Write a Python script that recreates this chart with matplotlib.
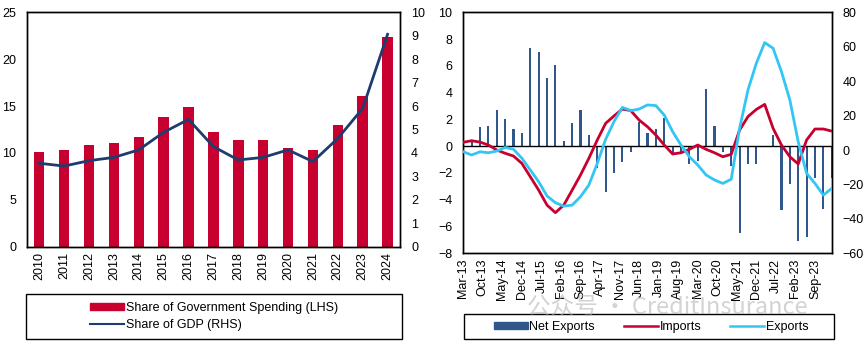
import numpy as np
import matplotlib
matplotlib.use("Agg")
import matplotlib.pyplot as plt
from matplotlib.patches import Rectangle, Patch
from matplotlib.lines import Line2D

plt.rcParams["font.family"] = ["Liberation Sans", "DejaVu Sans"]
plt.rcParams["font.size"] = 9

# Left chart: share of government spending (LHS) / share of GDP (RHS)
years = [str(y) for y in range(2010, 2025)]
gov_spending = [10.1, 10.3, 10.8, 11.1, 11.7, 13.8, 14.9, 12.2, 11.4, 11.4,
                10.5, 10.3, 13.0, 16.1, 22.4]
gdp_share = [3.56, 3.44, 3.67, 3.81, 4.13, 4.88, 5.43, 4.27, 3.70, 3.81,
             4.13, 3.63, 4.62, 5.90, 9.06]

# Right chart: quarterly, Mar-13 .. Mar-24
net_exports = [-1.5, 0.3, 1.4, 1.5, 2.7, 2.0, 1.3, 1.0, 7.3, 7.0,
               5.1, 6.1, 0.4, 1.7, 2.7, 0.8, -1.6, -3.4, -2.0, -1.2,
               -0.4, 1.8, 1.0, 1.3, 2.1, -0.6, -0.4, -1.3, -1.1, 4.3,
               1.5, -0.4, -1.5, -6.5, -1.3, -1.3, 0.05, 0.8, -4.8, -2.8,
               -7.1, -6.8, -2.4, -4.7, -2.4]
imports = [4.5, 5.4, 4.6, 2.9, 0.0, -1.9, -3.5, -7.8, -15.5, -23.3,
           -32.0, -36.4, -32.0, -23.3, -14.5, -4.8, 5.8, 15.5, 19.8, 23.8,
           22.9, 17.4, 13.5, 8.7, 2.9, -2.3, -1.6, 0.4, 2.9, 0.4,
           -1.6, -3.9, -2.5, 11.6, 19.4, 23.6, 26.5, 12.6, 2.9, -3.9,
           -8.1, 5.8, 12.2, 12.2, 11.0]
exports = [-1.0, -2.9, -1.0, -1.6, -0.6, 1.5, 0.4, -4.8, -11.6, -18.4,
           -26.7, -30.6, -32.6, -32.0, -27.1, -20.3, -7.8, 6.2, 16.5, 24.8,
           22.9, 23.8, 26.2, 25.8, 20.3, 10.7, 2.9, -3.9, -8.7, -14.5,
           -17.4, -19.4, -17.0, 12.6, 34.9, 50.4, 62.4, 59.1, 45.5, 29.1,
           4.8, -13.5, -19.4, -26.2, -22.3]
month_labels = ["Mar-13", "Oct-13", "May-14", "Dec-14", "Jul-15", "Feb-16",
                "Sep-16", "Apr-17", "Nov-17", "Jun-18", "Jan-19", "Aug-19",
                "Mar-20", "Oct-20", "May-21", "Dec-21", "Jul-22", "Feb-23",
                "Sep-23"]

RED = "#C8002F"
NAVY = "#1F3C6E"
BAR_BLUE = "#2F578C"
CYAN = "#33C6F4"

W, H = 865, 346
fig = plt.figure(figsize=(W / 100, H / 100), dpi=100)


def fbox(x0, y0, x1, y1):
    # pixel box (top-left origin) -> figure fraction rect
    return [x0 / W, 1 - y1 / H, (x1 - x0) / W, (y1 - y0) / H]


# =========================
# Left chart
# =========================
ax1 = fig.add_axes(fbox(27.3, 12.3, 400, 246.7))
x = np.arange(len(years))
ax1.bar(x, gov_spending, width=0.42, color=RED, zorder=2)
ax1.set_xlim(-0.48, len(years) - 0.5)
ax1.set_ylim(0, 25)
ax1.set_yticks(range(0, 26, 5))
ax1.set_xticks(x)
ax1.set_xticklabels(years, rotation=90)
ax1.tick_params(length=0, pad=4)
ax1.tick_params(axis="y", pad=8)

ax1r = ax1.twinx()
ax1r.plot(x, gdp_share, color=NAVY, lw=2.0, zorder=3)
ax1r.set_ylim(0, 10)
ax1r.set_yticks(range(0, 11))
ax1r.tick_params(length=0, pad=8)
for a in (ax1, ax1r):
    for s in a.spines.values():
        s.set_linewidth(1.0)
        s.set_color("black")

fig.patches.append(Rectangle((26 / W, 1 - 339 / H), 376 / W, 45 / H,
                             transform=fig.transFigure, fill=False,
                             edgecolor="black", lw=1.0))
fig.legend(handles=[Patch(color=RED, label="Share of Government Spending (LHS)"),
                    Line2D([], [], color=NAVY, lw=1.5, label="Share of GDP (RHS)")],
           loc="center", bbox_to_anchor=(214 / W, 1 - 316.5 / H), frameon=False,
           handlelength=2.7, handleheight=0.45, handletextpad=0.15,
           labelspacing=0.45, fontsize=9)

# =========================
# Right chart
# =========================
ax2 = fig.add_axes(fbox(463.3, 12.3, 831.7, 253.3))
m = np.arange(len(net_exports)) * 3
ax2.bar(m, net_exports, width=0.75, color=BAR_BLUE, zorder=2)
ax2.axhline(0, color="black", lw=1.0, zorder=3)
ax2.set_xlim(0, 132)
ax2.set_ylim(-8, 10)
ax2.set_yticks(range(-8, 11, 2))
ax2.set_xticks(np.arange(len(month_labels)) * 7)
ax2.set_xticklabels(month_labels, rotation=90)
ax2.tick_params(length=0, pad=4)
ax2.tick_params(axis="y", pad=8)

ax2r = ax2.twinx()
ax2r.plot(m, imports, color=RED, lw=2.0, zorder=4)
ax2r.plot(m, exports, color=CYAN, lw=2.0, zorder=4)
ax2r.set_ylim(-60, 80)
ax2r.set_yticks(range(-60, 81, 20))
ax2r.tick_params(length=0, pad=8)
for a in (ax2, ax2r):
    for s in a.spines.values():
        s.set_linewidth(1.0)
        s.set_color("black")

fig.patches.append(Rectangle((463.5 / W, 1 - 339 / H), 370 / W, 25 / H,
                             transform=fig.transFigure, fill=False,
                             edgecolor="black", lw=1.0))
fig.legend(handles=[Patch(color=BAR_BLUE, label="Net Exports"),
                    Line2D([], [], color=RED, lw=1.8, label="Imports"),
                    Line2D([], [], color=CYAN, lw=1.8, label="Exports")],
           loc="center", bbox_to_anchor=(651 / W, 1 - 327 / H), frameon=False,
           ncol=3, handlelength=2.7, handleheight=0.45, handletextpad=0.15,
           columnspacing=2.3, fontsize=9)

# watermark (sits just above the legend box)
fig.text(527 / W, 1 - 308 / H, "公众号 · CreditInsurance", fontsize=17,
         color="#b0b0b0", alpha=0.55, va="center", ha="left",
         family=["Noto Sans CJK SC", "DejaVu Sans"], zorder=10)

fig.savefig("out.png", dpi=100)
